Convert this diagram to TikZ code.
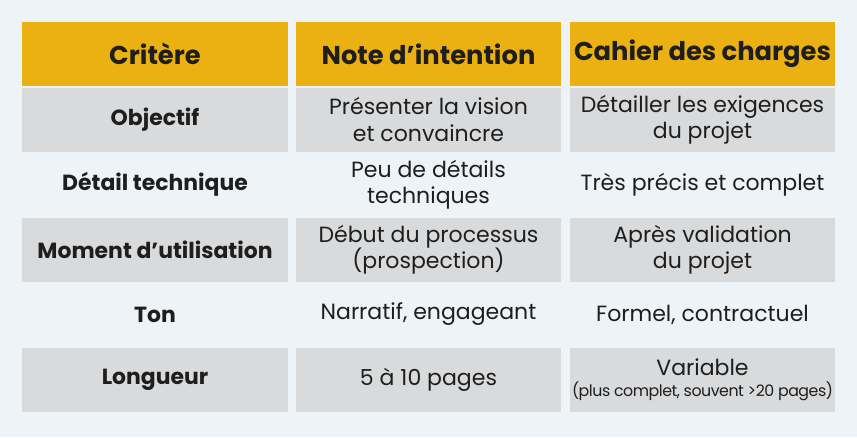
\documentclass[tikz,border=0pt]{standalone}
\usepackage{fontspec}
\setmainfont{Poppins}
\definecolor{bgblue}{HTML}{EEF3F7}
\definecolor{headyellow}{HTML}{EBB012}
\definecolor{rowgray}{HTML}{D9DADC}
\definecolor{txt}{HTML}{1E1E1E}
\tikzset{
  cell/.style={minimum width=7.95cm, minimum height=1.92cm, inner sep=0pt, align=center, text=txt, font=\fontsize{18.8}{22.5}\selectfont},
  head/.style={cell, fill=headyellow, font=\fontsize{22}{26}\selectfont\bfseries},
  grayrow/.style={cell, fill=rowgray},
  crit/.style={font=\fontsize{18.7}{22}\selectfont\bfseries}
}
\begin{document}
\begin{tikzpicture}[x=0.03cm, y=-0.03cm]
				\fill[bgblue] (0,0) rectangle (857,437);
				\node[head] (H1)at(155, 54) {Critère};
				\node[head] (H2)at(428.5, 54) {Note d’intention};
				\node[head] (H3)at(702.5, 54) {Cahier des charges};
				\node[grayrow, crit] (A1)at(155, 119.5) {Objectif};
				\node[grayrow] (A2)at(428.5, 119.5) {Présenter la vision\\et convaincre};
				\node[grayrow] (A3)at(702.5, 119.5) {Détailler les exigences\\du projet};
				\node[cell, crit] (B1)at(155, 184.5) {Détail technique};
				\node[cell] (B2)at(428.5, 184.5) {Peu de détails\\techniques};
				\node[cell] (B3)at(702.5, 184.5) {Très précis et complet};
				\node[grayrow, crit] (C1)at(155, 249.5) {Moment d’utilisation};
				\node[grayrow] (C2)at(428.5, 249.5) {Début du processus\\(prospection)};
				\node[grayrow] (C3)at(702.5, 249.5) {Après validation\\du projet};
				\node[cell, crit] (D1)at(155, 314.5) {Ton};
				\node[cell] (D2)at(428.5, 314.5) {Narratif, engageant};
				\node[cell] (D3)at(702.5, 314.5) {Formel, contractuel};
				\node[grayrow, crit] (E1)at(155, 379.5) {Longueur};
				\node[grayrow] (E2)at(428.5, 379.5) {5 à 10 pages};
				\node[grayrow] (E3)at(702.5, 379.5) {Variable\\[-5pt]{\fontsize{13.5}{15}\selectfont\addfontfeature{LetterSpace=-3}(plus complet, souvent >20 pages)}};
			\end{tikzpicture}
\end{document}
